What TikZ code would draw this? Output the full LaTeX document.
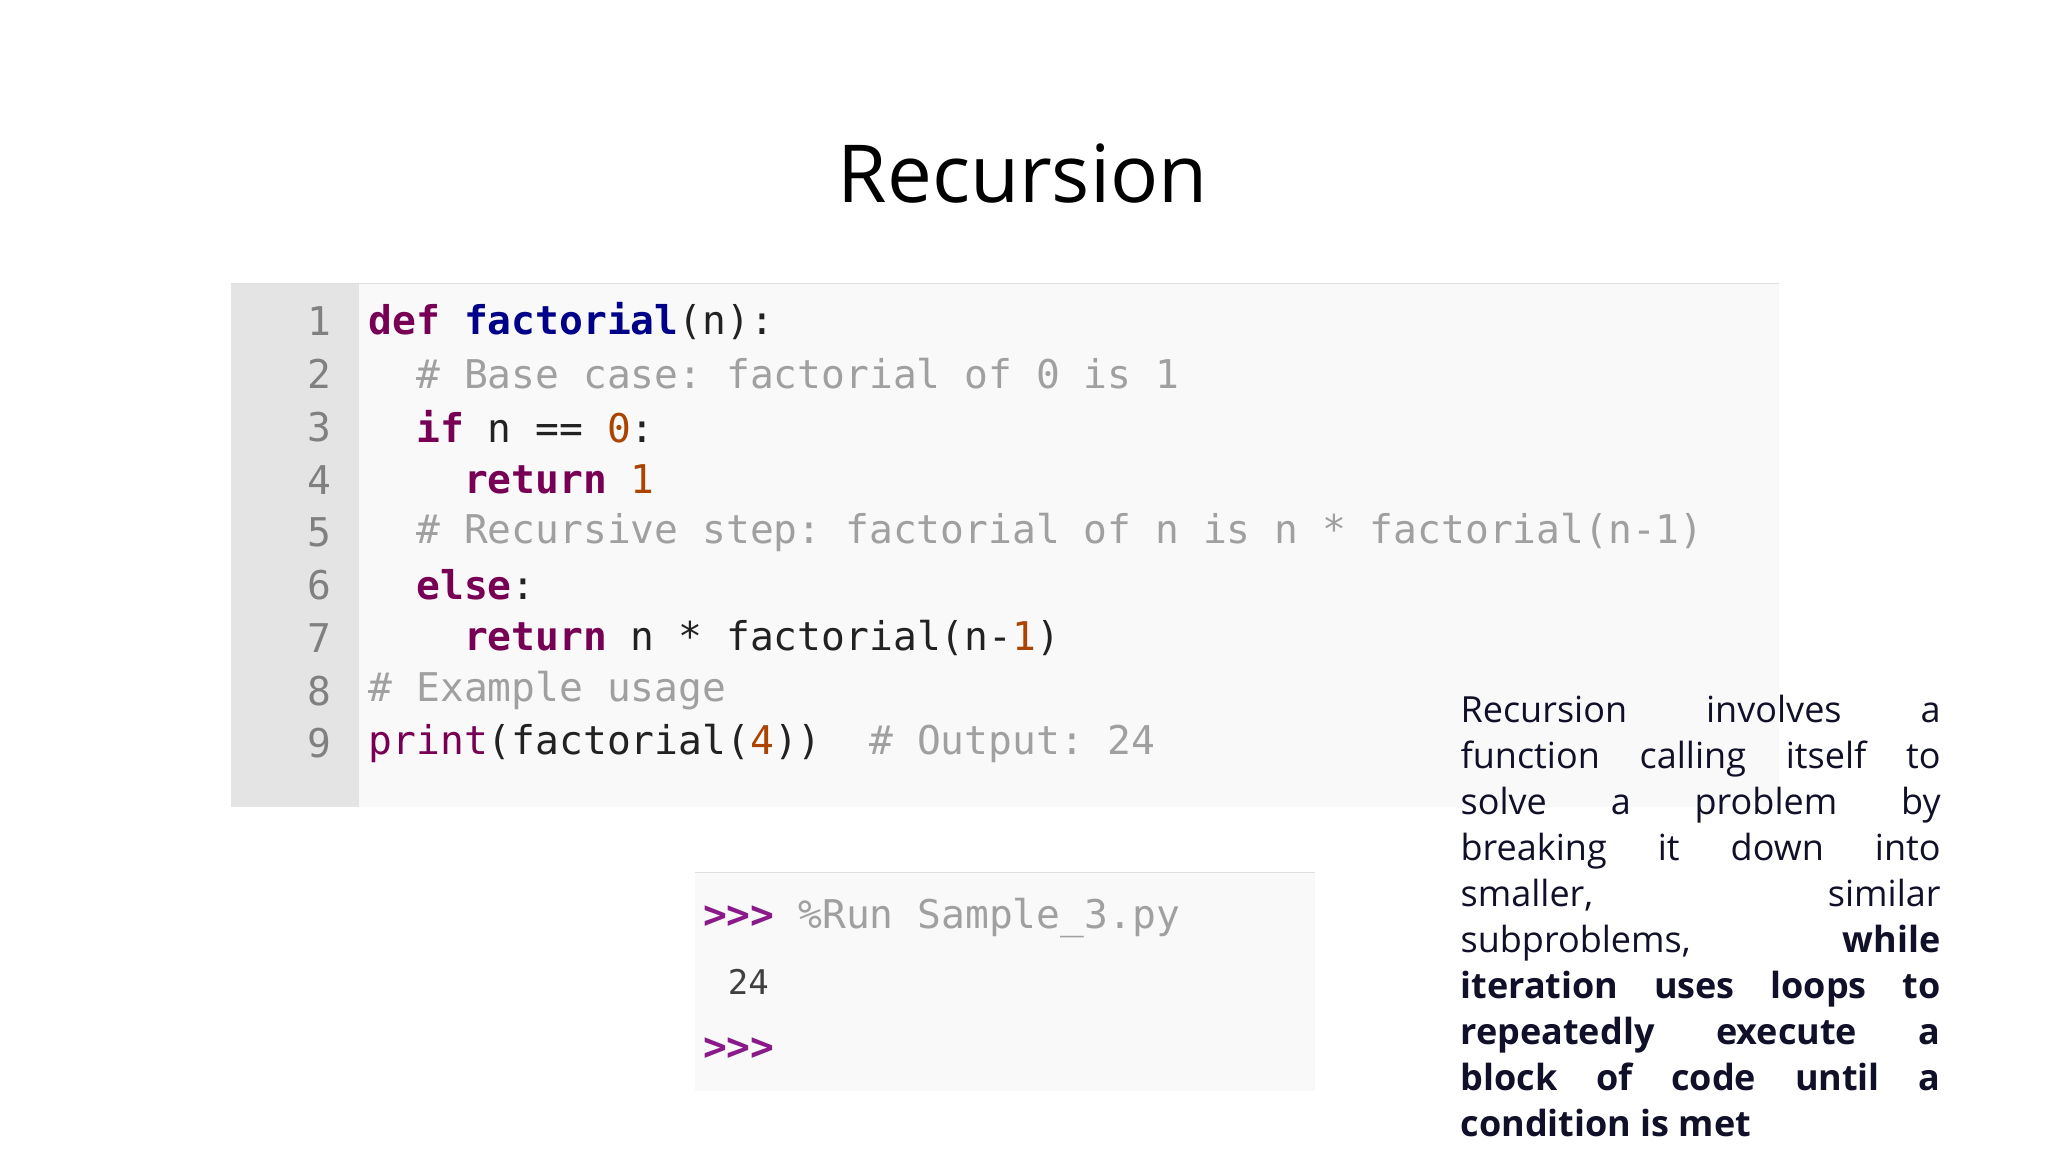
\documentclass[tikz,border=0pt]{standalone}
\usepackage{fontspec}
\setmainfont{Open Sans}
\setmonofont{DejaVu Sans Mono}
\definecolor{kwc}{HTML}{770055}
\definecolor{fnc}{HTML}{000088}
\definecolor{cmc}{HTML}{A0A0A0}
\definecolor{numc}{HTML}{AA4400}
\definecolor{txc}{HTML}{222222}
\definecolor{parc}{HTML}{101028}
\definecolor{gut}{HTML}{E4E4E4}
\definecolor{bgc}{HTML}{F9F9F9}
\definecolor{prc}{HTML}{8A1A8A}
\newcommand\kwd[1]{\textcolor{kwc}{\textbf{#1}}}
\newcommand\cmt[1]{\textcolor{cmc}{#1}}
\newcommand\nmb[1]{\textcolor{numc}{#1}}
\newcommand\jl[1]{\makebox[240pt][s]{#1}}
\begin{document}
\begin{tikzpicture}[x=0.6531pt,y=-0.6531pt,
  code/.style={anchor=west,inner sep=0,font=\ttfamily\fontsize{19.8}{24}\selectfont,text=txc},
  lnum/.style={anchor=east,inner sep=0,font=\ttfamily\fontsize{19.8}{24}\selectfont,text=gray}]
\useasboundingbox[fill=white] (0,0) rectangle (1568,882);
\node[font=\fontsize{40}{44}\selectfont,text=black] (title) at (783,133) {Recursion};
% code box
\fill[bgc] (177,217) rectangle (1362,618);
\fill[gut] (177,217) rectangle (275,618);
\draw[gray!25,line width=0.8pt] (177,217) -- (1362,217);
\foreach \i in {1,...,9}{\node[lnum] (n\i) at (254,{246+40.4*(\i-1)}) {\i};}
\node[code] (c1) at (282,246) {\kwd{def} \textcolor{fnc}{\textbf{factorial}}(n):};
\node[code] (c2) at (282,286.4) {\ \ \cmt{\# Base case: factorial of 0 is 1}};
\node[code] (c3) at (282,326.8) {\ \ \kwd{if} n == \nmb{0}:};
\node[code] (c4) at (282,367.2) {\ \ \ \ \kwd{return} \nmb{1}};
\node[code] (c5) at (282,407.6) {\ \ \cmt{\# Recursive step: factorial of n is n * factorial(n-1)}};
\node[code] (c6) at (282,448) {\ \ \kwd{else}:};
\node[code] (c7) at (282,488.4) {\ \ \ \ \kwd{return} n * factorial(n-\nmb{1})};
\node[code] (c8) at (282,528.8) {\cmt{\# Example usage}};
\node[code] (c9) at (282,569.2) {\textcolor{kwc}{print}(factorial(\nmb{4}))\ \ \cmt{\# Output: 24}};
% console
\fill[bgc] (532,668) rectangle (1007,835);
\draw[gray!25,line width=0.8pt] (532,668) -- (1007,668);
\node[code] (p1) at (538,703) {\textcolor{prc}{\textbf{>{}>{}>}} \cmt{\%Run Sample\_3.py}};
\node[code,font=\ttfamily\fontsize{17}{20}\selectfont,text=black!75] (p2) at (557,752) {24};
\node[code] (p3) at (538,803) {\textcolor{prc}{\textbf{>{}>{}>}}};
% paragraph
\node[anchor=north west,inner sep=0,text=parc,align=left,
  font=\fontsize{18}{23}\selectfont] (para) at (1118,532) {%
\jl{Recursion involves a}\\
\jl{function calling itself to}\\
\jl{solve a problem by}\\
\jl{breaking it down into}\\
\jl{smaller, similar}\\
\jl{subproblems, \textbf{while}}\\
\jl{\textbf{iteration uses loops to}}\\
\jl{\textbf{repeatedly execute a}}\\
\jl{\textbf{block of code until a}}\\
\textbf{condition is met}};
\end{tikzpicture}
\end{document}
